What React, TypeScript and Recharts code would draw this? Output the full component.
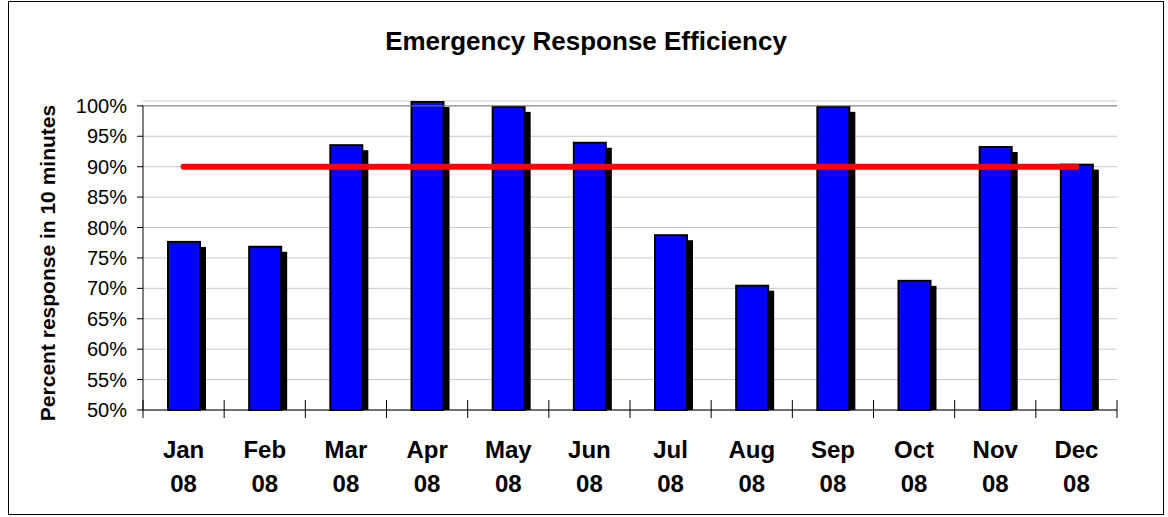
import React from 'react';
import { ComposedChart, Bar, Line, XAxis, YAxis, CartesianGrid, ReferenceLine } from 'recharts';

const months = ['Jan 08', 'Feb 08', 'Mar 08', 'Apr 08', 'May 08', 'Jun 08', 'Jul 08', 'Aug 08', 'Sep 08', 'Oct 08', 'Nov 08', 'Dec 08'];
const responseRate = [77.8, 77.0, 93.7, 100.8, 100.0, 94.1, 78.9, 70.6, 100.0, 71.4, 93.4, 90.5];
const targetRate = [90, 90, 90, 90, 90, 90, 90, 90, 90, 90, 90, 90];
const yTicks = [50, 55, 60, 65, 70, 75, 80, 85, 90, 95, 100];

const title = 'Emergency Response Efficiency';
const yLabel = 'Percent response in 10 minutes';

const data = months.map((m, i) => ({ month: m, rate: responseRate[i], target: targetRate[i] }));

const FONT = '"Liberation Sans", Arial, Helvetica, sans-serif';

const W = 1154;
const H = 512;
const TICK_SIZE = 8;

const BarShape = (props: any) => {
  const { x, y, width, height } = props;
  if (!height || height <= 0) return null;
  return (
    <g>
      <rect x={x + 5} y={y + 6} width={width} height={Math.max(0, height - 6)} fill="#000000" />
      <rect x={x + 1} y={y + 1} width={width - 2} height={height - 1} fill="#0000FF" stroke="#000000" strokeWidth={2} />
    </g>
  );
};

const XTick = (props: any) => {
  const { x, y, payload, index, visibleTicksCount } = props;
  const parts = String(payload.value).split(' ');
  const half = payload && typeof payload.offset === 'number' ? payload.offset : 0;
  const axisY = y - TICK_SIZE;
  const isLast = index === visibleTicksCount - 1;
  return (
    <g>
      {half > 0 && <line x1={x - half} x2={x - half} y1={axisY - 10} y2={axisY + 8} stroke="#000" strokeWidth={1} />}
      {half > 0 && isLast && <line x1={x + half} x2={x + half} y1={axisY - 10} y2={axisY + 8} stroke="#000" strokeWidth={1} />}
      <text x={x} y={axisY + 48} textAnchor="middle" fontSize={24} fontWeight="bold" fill="#000" fontFamily={FONT}>
        <tspan x={x}>{parts[0]}</tspan>
        <tspan x={x} dy={34}>{parts[1]}</tspan>
      </text>
    </g>
  );
};

export default function App() {
  return (
    <div
      style={{
        position: 'absolute',
        left: 8,
        top: 1,
        width: W + 2,
        height: H + 2,
        border: '1px solid #000',
        boxSizing: 'border-box',
        background: '#fff',
      }}
    >
      <ComposedChart
        width={W}
        height={H}
        data={data}
        margin={{ top: 99, right: 46, left: 0, bottom: 0 }}
        style={{ fontFamily: FONT }}
      >
        <CartesianGrid horizontal vertical={false} stroke="#c8c8c8" strokeWidth={1} />
        <XAxis
          dataKey="month"
          height={104}
          axisLine={{ stroke: '#000', strokeWidth: 1 }}
          tickLine={false}
          tickSize={TICK_SIZE}
          tickMargin={0}
          interval={0}
          tick={<XTick />}
        />
        <YAxis
          type="number"
          width={134}
          domain={[50, 'dataMax']}
          ticks={yTicks}
          interval={0}
          axisLine={false}
          tickLine={{ stroke: '#000' }}
          tickSize={6}
          tickMargin={10}
          tickFormatter={(v: number) => `${v}%`}
          tick={{ fill: '#000', fontSize: 20, fontFamily: FONT }}
        />
        <ReferenceLine y={100} stroke="#808080" strokeWidth={1} />
        <ReferenceLine
          segment={[{ x: 'Dec 08', y: 50 }, { x: 'Dec 08', y: 100 }]}
          position="end"
          stroke="#808080"
          strokeWidth={1}
        />
        <ReferenceLine
          segment={[{ x: 'Jan 08', y: 50 }, { x: 'Jan 08', y: 100 }]}
          position="start"
          stroke="#000"
          strokeWidth={1}
        />
        <Bar dataKey="rate" barSize={34} shape={<BarShape />} isAnimationActive={false} />
        <Line
          type="linear"
          dataKey="target"
          stroke="#FF0000"
          strokeWidth={6}
          strokeLinecap="round"
          dot={false}
          activeDot={false}
          isAnimationActive={false}
        />
      </ComposedChart>
      <svg
        width={W}
        height={H}
        style={{ position: 'absolute', left: 0, top: 0, pointerEvents: 'none' }}
      >
        <text x={W / 2} y={48} textAnchor="middle" fontSize={26} fontWeight="bold" fill="#000" fontFamily={FONT}>
          {title}
        </text>
        <text
          transform="translate(46, 261) rotate(-90)"
          textAnchor="middle"
          fontSize={21}
          fontWeight="bold"
          fill="#000"
          fontFamily={FONT}
        >
          {yLabel}
        </text>
      </svg>
    </div>
  );
}
